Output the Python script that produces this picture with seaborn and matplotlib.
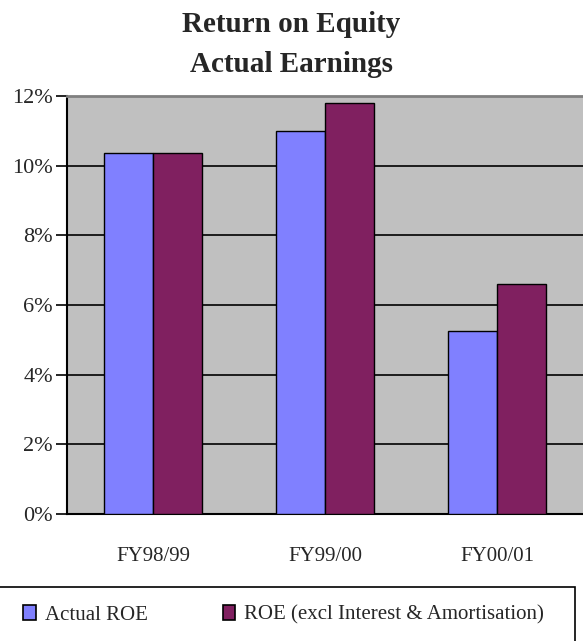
import pandas as pd
import matplotlib.pyplot as plt
import seaborn as sns
from matplotlib.patches import Patch, Rectangle
from matplotlib.ticker import FixedLocator, FuncFormatter

# data (ROE in %)
years = ["FY98/99", "FY99/00", "FY00/01"]
actual_roe = [10.37, 11.0, 5.26]
roe_excl = [10.37, 11.8, 6.6]
series_names = ["Actual ROE", "ROE (excl Interest & Amortisation)"]
y_ticks = [0, 2, 4, 6, 8, 10, 12]

df = pd.DataFrame({"Year": years * 2,
                   "Series": [series_names[0]] * 3 + [series_names[1]] * 3,
                   "ROE": actual_roe + roe_excl})

colors = ["#8080FF", "#802060"]

sns.set_style("white")
plt.rcParams["font.family"] = ["Liberation Serif", "DejaVu Serif"]

W, H = 583, 641
fig = plt.figure(figsize=(W / 100, H / 100), dpi=100)
ax = fig.add_axes([67 / W, 1 - 514 / H, 1 - 67 / W, 418 / H])
ax.set_facecolor("#C0C0C0")

sns.barplot(data=df, x="Year", y="ROE", hue="Series", palette=colors,
            width=0.575, edgecolor="black", linewidth=1.0, saturation=1,
            legend=False, ax=ax, zorder=3)

ax.set_ylim(0, 12)
ax.set_xlim(-0.5, 2.5)
ax.yaxis.set_major_locator(FixedLocator(y_ticks))
ax.yaxis.set_major_formatter(FuncFormatter(lambda v, p: f"{v:.0f}%"))
ax.grid(axis="y", color="black", linewidth=1.2, zorder=0)
ax.set_axisbelow(True)

# category separators as ticks crossing the axis
ax.set_xticks([0.5, 1.5], minor=True)
ax.tick_params(axis="x", which="minor", direction="inout", length=16, width=1.2, color="black")
ax.tick_params(axis="x", which="major", length=0, pad=24, labelsize=15)
ax.tick_params(axis="y", which="major", direction="out", length=8, width=1.2,
               color="black", labelsize=16, pad=2, left=True)

for side in ["left", "bottom"]:
    ax.spines[side].set_color("black")
    ax.spines[side].set_linewidth(1.5)
ax.spines["top"].set_color("#808080")
ax.spines["top"].set_linewidth(2)
ax.spines["right"].set_visible(False)

ax.set_xlabel("")
ax.set_ylabel("")

fig.text(0.5, 1 - 25 / H, "Return on Equity", ha="center", va="center",
         fontsize=21, fontweight="bold")
fig.text(0.5, 1 - 64 / H, "Actual Earnings", ha="center", va="center",
         fontsize=21, fontweight="bold")

# legend box, partly cut off by the image edges
fig.patches.append(Rectangle((-5 / W, -5 / H), 580 / W, (H - 586.5 + 5) / H,
                             transform=fig.transFigure, facecolor="white",
                             edgecolor="black", linewidth=1.2))

handles = [Patch(facecolor=c, edgecolor="black", linewidth=1.2) for c in colors]
leg = fig.legend(handles, series_names, loc="center left", ncol=2,
                 bbox_to_anchor=(23 / W, 1 - 615 / H),
                 fontsize=15, frameon=False,
                 handlelength=0.62, handleheight=0.72, handletextpad=0.42,
                 borderpad=0, borderaxespad=0, columnspacing=3.6)

plt.savefig("out.png", dpi=100)
